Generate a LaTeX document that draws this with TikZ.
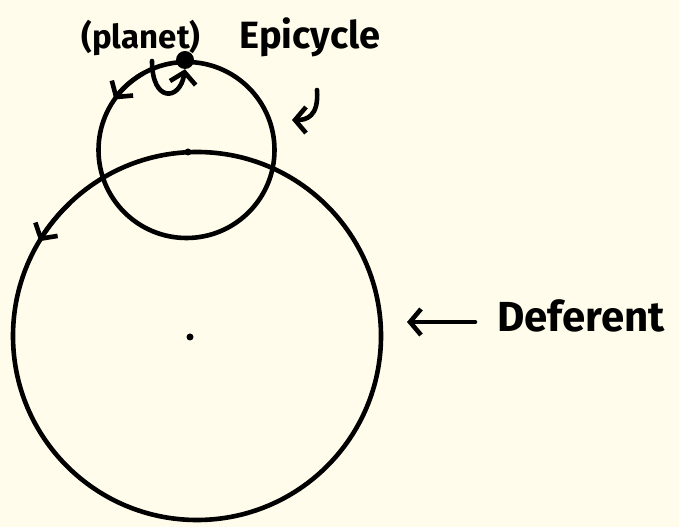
\documentclass[tikz,border=0pt]{standalone}
\usepackage{fontspec}
\setmainfont{Fira Sans}
\usetikzlibrary{arrows.meta}
\definecolor{paper}{HTML}{FFFCEB}
\tikzset{
  ink/.style={line width=4.6pt, black, line cap=round, line join=round},
  tip/.style={-{Straight Barb[length=11pt,width=26pt,line width=4.6pt]}},
  lbl/.style={font=\bfseries\fontsize{#1}{#1}\selectfont, inner sep=0pt},
  dot/.style={circle, fill=black, inner sep=0pt, minimum size=#1}
}
\begin{document}
\begin{tikzpicture}[x=1pt,y=1pt]
\fill[paper] (0,0) rectangle (679,527);
\useasboundingbox (0,0) rectangle (679,527);
% deferent and epicycle
\draw[ink] (197,191) circle[radius=184];
\draw[ink] (186.5,377) circle[radius=88];
\node[dot=7pt] (dcen) at (190,190) {};
\node[dot=7pt] (ecen) at (188,375) {};
\node[dot=18pt] (planet) at (185,467) {};
% motion arrows on circles
\draw[ink,tip] (186.5,377) ++(120:88) arc[start angle=120, end angle=145, radius=88];
\draw[ink,tip] (197,191) ++(134:184) arc[start angle=134, end angle=149, radius=184];
% labels
\node[lbl=33] (lplanet) at (141,489) {(planet)};
\node[lbl=38] (lepi) at (310,490) {Epicycle};
\node[lbl=42] (ldef) at (581,211) {Deferent};
% curl arrow at planet
\coordinate (curlstart) at (152,466);
\draw[ink,tip] (curlstart) .. controls (152,424) and (180,426) .. (planet.south);
% epicycle pointer
\coordinate (epipt) at (292,407);
\draw[ink,tip] (317,437) .. controls (319,410) and (306,407) .. (epipt);
% deferent pointer
\coordinate (defpt) at (407,205);
\draw[ink,tip] (475,205) -- (defpt);
\end{tikzpicture}
\end{document}
